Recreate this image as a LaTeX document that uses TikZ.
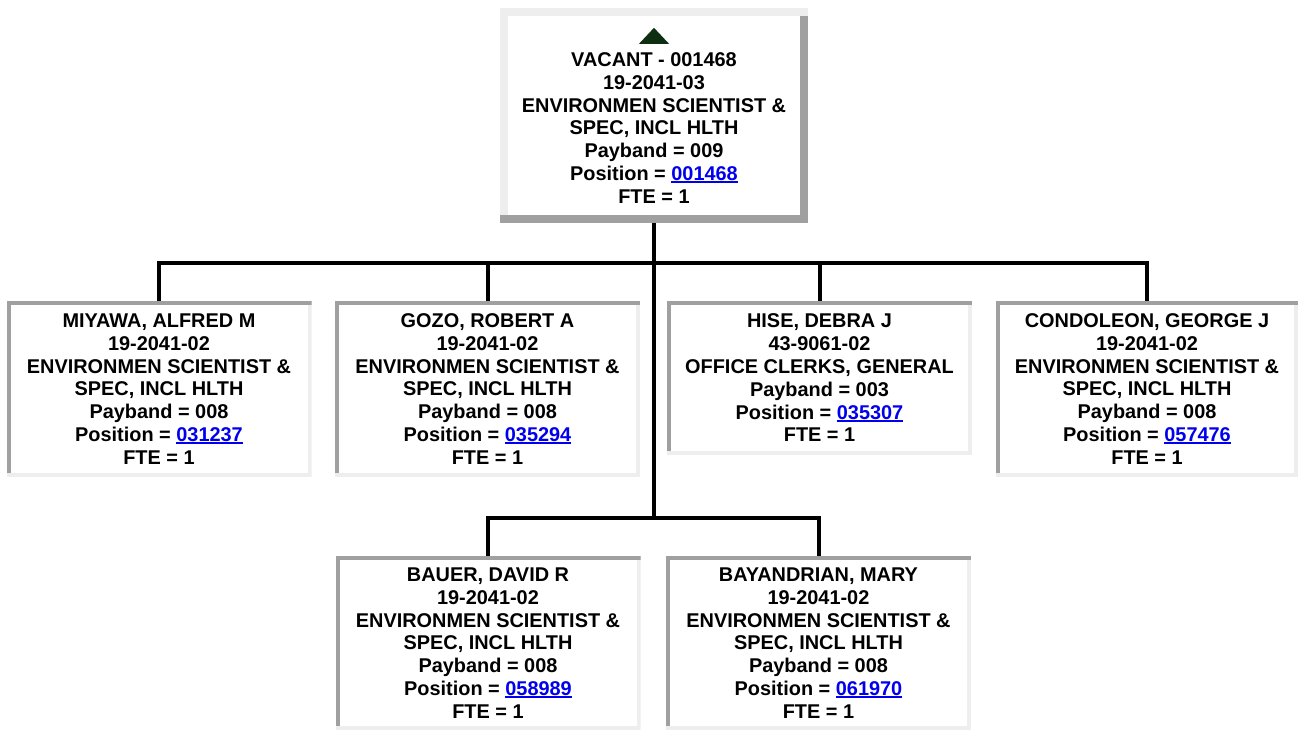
\documentclass[tikz,border=0pt]{standalone}
\usepackage{fontspec}
\setmainfont{Liberation Sans}
\usepackage{xcolor}
\usetikzlibrary{positioning, calc}

\definecolor{linkblue}{HTML}{0000EE}
\definecolor{bordlight}{HTML}{EEEEEE}
\definecolor{borddark}{HTML}{A0A0A0}
\definecolor{upgreen}{HTML}{0E2E12}

\newcommand{\poslink}[1]{\textcolor{linkblue}{\setbox0\hbox{#1}\rlap{\rule[-2.6pt]{\wd0}{1.8pt}}\box0}}

\begin{document}
\begin{tikzpicture}[x=1pt, y=-1pt,
    card/.style={rectangle, fill=white, inner sep=0pt, align=center,
        minimum width=305pt, minimum height=176pt,
        font=\fontsize{19.9}{22.8}\selectfont\bfseries,
        path picture={
            \fill[bordlight] (path picture bounding box.south west) rectangle (path picture bounding box.north east);
            \fill[borddark] (path picture bounding box.north west) rectangle ([yshift=-4pt]path picture bounding box.north east);
            \fill[borddark] (path picture bounding box.north west) rectangle ([shift={(4pt,4pt)}]path picture bounding box.south west);
            \fill[white] ([shift={(4pt,4pt)}]path picture bounding box.south west) rectangle ([shift={(-4pt,-4pt)}]path picture bounding box.north east);
        }},
    headcard/.style={rectangle, fill=white, inner sep=0pt, align=center,
        minimum width=308pt, minimum height=215pt,
        font=\fontsize{19.9}{22.8}\selectfont\bfseries,
        path picture={
            \fill[borddark] (path picture bounding box.south west) rectangle (path picture bounding box.north east);
            \fill[bordlight] (path picture bounding box.north west) rectangle ([yshift=-8pt]path picture bounding box.north east);
            \fill[bordlight] (path picture bounding box.north west) rectangle ([shift={(8pt,8pt)}]path picture bounding box.south west);
            \fill[white] ([shift={(8pt,8pt)}]path picture bounding box.south west) rectangle ([shift={(-8pt,-8pt)}]path picture bounding box.north east);
        }},
    wire/.style={line width=4pt, line join=miter}
]
\useasboundingbox[fill=white] (0,0) rectangle (1299,730);

% Vacant position (top)
\node[headcard] (vac) at (654,115.5) {\strut\\VACANT - 001468\\19-2041-03\\ENVIRONMEN SCIENTIST \&\\SPEC, INCL HLTH\\Payband = 009\\Position = \poslink{001468}\\FTE = 1};
\fill[upgreen] ($(vac.north)+(-15,36)$) -- ($(vac.north)+(0,20)$) -- ($(vac.north)+(15,36)$) -- cycle;

% First row
\node[card] (miy) at (159,389) {MIYAWA, ALFRED M\\19-2041-02\\ENVIRONMEN SCIENTIST \&\\SPEC, INCL HLTH\\Payband = 008\\Position = \poslink{031237}\\FTE = 1};
\node[card] (gozo) at (487.5,389) {GOZO, ROBERT A\\19-2041-02\\ENVIRONMEN SCIENTIST \&\\SPEC, INCL HLTH\\Payband = 008\\Position = \poslink{035294}\\FTE = 1};
\node[card, minimum height=154pt] (hise) at (819.5,378) {HISE, DEBRA J\\43-9061-02\\OFFICE CLERKS, GENERAL\\Payband = 003\\Position = \poslink{035307}\\FTE = 1};
\node[card, minimum width=302pt] (cond) at (1147,389) {CONDOLEON, GEORGE J\\19-2041-02\\ENVIRONMEN SCIENTIST \&\\SPEC, INCL HLTH\\Payband = 008\\Position = \poslink{057476}\\FTE = 1};

% Second row
\node[card, minimum height=174pt] (bau) at (488,643) {BAUER, DAVID R\\19-2041-02\\ENVIRONMEN SCIENTIST \&\\SPEC, INCL HLTH\\Payband = 008\\Position = \poslink{058989}\\FTE = 1};
\node[card, minimum height=174pt] (bay) at (818.5,643) {BAYANDRIAN, MARY\\19-2041-02\\ENVIRONMEN SCIENTIST \&\\SPEC, INCL HLTH\\Payband = 008\\Position = \poslink{061970}\\FTE = 1};

% Connectors
\coordinate (bus) at (654,263);
\coordinate (bus2) at (654,518);
\draw[wire] (vac.south) -- (bus2);
\draw[wire] (miy.north) |- (bus);
\draw[wire] (gozo.north) |- (bus);
\draw[wire] (hise.north) |- (bus);
\draw[wire] (cond.north) |- (bus);
\draw[wire] (bau.north) |- (bus2);
\draw[wire] (bay.north) |- (bus2);

\end{tikzpicture}
\end{document}
